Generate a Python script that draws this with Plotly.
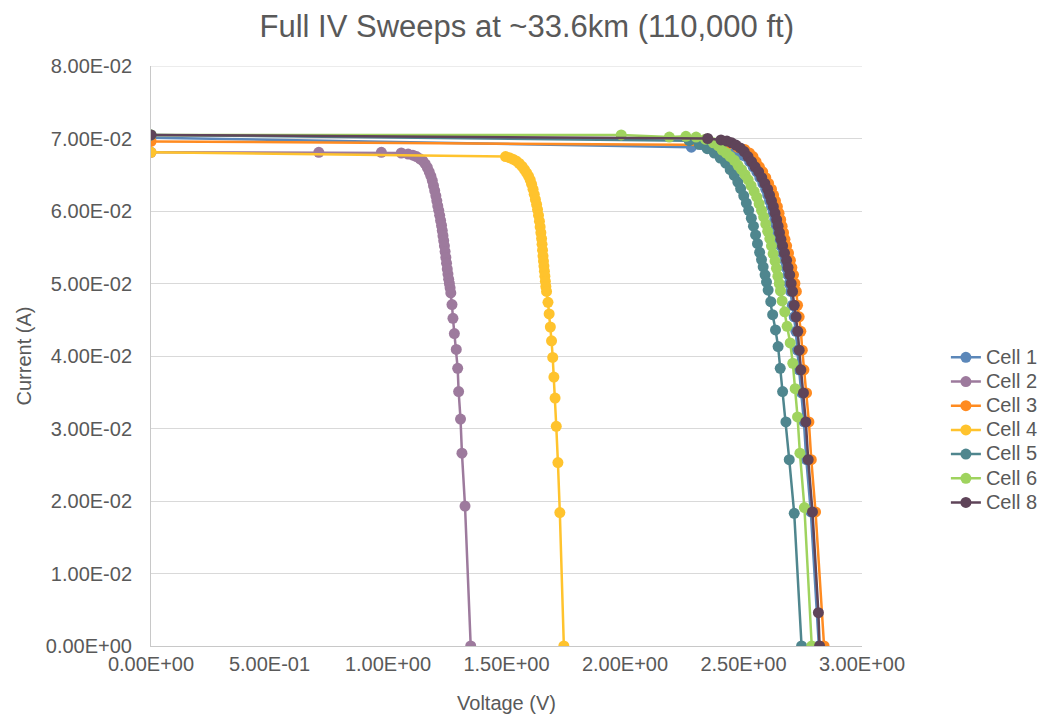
import plotly.graph_objects as go

# ---- data (Voltage in V, Current in units of 1e-2 A) ----
cell1_v = [0, 2.280, 2.377, 2.461, 2.495, 2.511, 2.526, 2.541, 2.556, 2.569, 2.582, 2.594, 2.602, 2.610,
           2.618, 2.625, 2.632, 2.638, 2.644, 2.650, 2.657, 2.665, 2.674, 2.680, 2.687, 2.693, 2.699, 2.706,
           2.714, 2.721, 2.727, 2.734, 2.745, 2.755, 2.765, 2.784, 2.818]
cell1_i = [7.01, 6.88, 6.83, 6.80, 6.77, 6.75, 6.68, 6.61, 6.54, 6.46, 6.38, 6.30, 6.22, 6.14,
           6.06, 5.97, 5.88, 5.79, 5.70, 5.61, 5.52, 5.42, 5.32, 5.22, 5.12, 5.00, 4.89, 4.70,
           4.54, 4.34, 4.08, 3.81, 3.49, 3.09, 2.57, 1.85, 0]

cell2_v = [0, 0.708, 0.972, 1.056, 1.085, 1.105, 1.120, 1.135, 1.147, 1.157, 1.166, 1.174, 1.181, 1.187,
           1.192, 1.197, 1.202, 1.206, 1.210, 1.214, 1.218, 1.222, 1.226, 1.229, 1.232, 1.235, 1.238,
           1.241, 1.244, 1.247, 1.250, 1.253, 1.256, 1.259, 1.262, 1.265, 1.270, 1.274, 1.280, 1.288,
           1.294, 1.298, 1.306, 1.312, 1.325, 1.349]
cell2_i = [6.81, 6.81, 6.81, 6.80, 6.785, 6.77, 6.75, 6.72, 6.69, 6.65, 6.60, 6.54, 6.48, 6.42,
           6.35, 6.28, 6.21, 6.14, 6.07, 6.01, 5.94, 5.87, 5.80, 5.73, 5.66, 5.59, 5.52,
           5.44, 5.36, 5.28, 5.20, 5.13, 5.06, 5.00, 4.94, 4.87, 4.71, 4.52, 4.31, 4.09,
           3.83, 3.51, 3.13, 2.66, 1.93, 0]

cell3_v = [0, 2.350, 2.430, 2.475, 2.505, 2.525, 2.540, 2.553, 2.567, 2.581, 2.594, 2.606, 2.618,
           2.627, 2.635, 2.643, 2.650, 2.657, 2.663, 2.669, 2.675, 2.682, 2.690, 2.698, 2.704, 2.711,
           2.717, 2.723, 2.728, 2.735, 2.742, 2.748, 2.755, 2.766, 2.776, 2.786, 2.804, 2.840]
cell3_i = [6.96, 6.92, 6.91, 6.88, 6.85, 6.80, 6.75, 6.68, 6.61, 6.54, 6.46, 6.38, 6.30,
           6.22, 6.14, 6.06, 5.97, 5.88, 5.79, 5.70, 5.61, 5.52, 5.42, 5.32, 5.22, 5.12,
           5.00, 4.89, 4.70, 4.54, 4.34, 4.08, 3.81, 3.49, 3.09, 2.57, 1.85, 0]

cell4_v = [0, 1.496, 1.512, 1.527, 1.541, 1.554, 1.566, 1.576, 1.585, 1.593, 1.600, 1.606, 1.612, 1.617,
           1.622, 1.627, 1.631, 1.635, 1.639, 1.642, 1.645, 1.648, 1.650, 1.652, 1.654, 1.656, 1.658,
           1.660, 1.662, 1.664, 1.666, 1.669, 1.675, 1.680, 1.685, 1.690, 1.695, 1.700, 1.705, 1.710,
           1.717, 1.725, 1.742]
cell4_i = [6.81, 6.75, 6.735, 6.715, 6.69, 6.655, 6.615, 6.57, 6.525, 6.48, 6.43, 6.37, 6.30, 6.23,
           6.16, 6.09, 6.02, 5.94, 5.86, 5.78, 5.70, 5.62, 5.54, 5.46, 5.38, 5.31, 5.24,
           5.17, 5.10, 5.03, 4.96, 4.89, 4.74, 4.58, 4.40, 4.21, 3.98, 3.71, 3.42, 3.03,
           2.53, 1.84, 0]

cell5_v = [0, 2.271, 2.313, 2.347, 2.377, 2.402, 2.425, 2.444, 2.461, 2.476, 2.488, 2.501, 2.512, 2.522,
           2.533, 2.542, 2.551, 2.559, 2.568, 2.576, 2.583, 2.591, 2.597, 2.604, 2.615, 2.623, 2.635,
           2.646, 2.655, 2.665, 2.679, 2.693, 2.714, 2.745]
cell5_i = [7.05, 6.97, 6.92, 6.86, 6.80, 6.73, 6.66, 6.57, 6.49, 6.40, 6.31, 6.21, 6.11, 6.01,
           5.90, 5.79, 5.67, 5.55, 5.43, 5.33, 5.23, 5.12, 5.02, 4.91, 4.75, 4.57, 4.36,
           4.13, 3.83, 3.51, 3.09, 2.57, 1.83, 0]

cell6_v = [0, 1.984, 2.187, 2.257, 2.300, 2.339, 2.373, 2.394, 2.410, 2.427, 2.444, 2.461, 2.477, 2.492,
           2.507, 2.520, 2.532, 2.545, 2.556, 2.566, 2.576, 2.585, 2.594, 2.602, 2.611, 2.618, 2.625,
           2.633, 2.639, 2.645, 2.651, 2.656, 2.663, 2.674, 2.684, 2.697, 2.708, 2.718, 2.728, 2.738,
           2.757, 2.788]
cell6_i = [7.05, 7.05, 7.02, 7.03, 7.02, 6.99, 6.94, 6.90, 6.84, 6.80, 6.75, 6.70, 6.63, 6.57,
           6.50, 6.43, 6.35, 6.27, 6.19, 6.10, 6.01, 5.92, 5.82, 5.72, 5.62, 5.52, 5.41,
           5.31, 5.21, 5.10, 5.00, 4.90, 4.76, 4.61, 4.41, 4.18, 3.90, 3.55, 3.16, 2.66,
           1.91, 0]

cell8_v = [0, 2.349, 2.405, 2.430, 2.450, 2.468, 2.486, 2.503, 2.519, 2.534, 2.549, 2.564, 2.577, 2.590,
           2.602, 2.610, 2.618, 2.626, 2.633, 2.640, 2.646, 2.652, 2.658, 2.665, 2.673, 2.682, 2.688,
           2.695, 2.701, 2.707, 2.714, 2.722, 2.729, 2.735, 2.742, 2.753, 2.763, 2.773, 2.791, 2.816,
           2.821]
cell8_i = [7.05, 7.00, 6.98, 6.965, 6.94, 6.91, 6.87, 6.82, 6.75, 6.68, 6.61, 6.54, 6.46, 6.38,
           6.30, 6.22, 6.14, 6.06, 5.97, 5.88, 5.79, 5.70, 5.61, 5.52, 5.42, 5.32, 5.22,
           5.12, 5.00, 4.89, 4.70, 4.54, 4.34, 4.08, 3.81, 3.49, 3.09, 2.57, 1.85, 0.46,
           0]

names = ["Cell 1", "Cell 2", "Cell 3", "Cell 4", "Cell 5", "Cell 6", "Cell 8"]
volts = [cell1_v, cell2_v, cell3_v, cell4_v, cell5_v, cell6_v, cell8_v]
currents = [cell1_i, cell2_i, cell3_i, cell4_i, cell5_i, cell6_i, cell8_i]
colors = ["#5B87B9", "#9D7A9D", "#FF8B21", "#FFC32D", "#4F868E", "#9FD35E", "#5F4459"]

x_tickvals = [0, 0.5, 1.0, 1.5, 2.0, 2.5, 3.0]
x_ticktext = ["0.00E+00", "5.00E-01", "1.00E+00", "1.50E+00", "2.00E+00", "2.50E+00", "3.00E+00"]
y_tickvals = [0, 0.01, 0.02, 0.03, 0.04, 0.05, 0.06, 0.07, 0.08]
y_ticktext = ["0.00E+00", "1.00E-02", "2.00E-02", "3.00E-02", "4.00E-02", "5.00E-02",
              "6.00E-02", "7.00E-02", "8.00E-02"]

FONT = "Liberation Sans, Arial, sans-serif"
GREY = "#595959"

# The page body adds an 8px margin; size the figure so the plot lands where the reference's does.
W, H = 1048, 708

fig = go.Figure()
for name, v, i, c in zip(names, volts, currents, colors):
    fig.add_trace(go.Scatter(
        x=v, y=[val / 100.0 for val in i],
        name="<span style='font-size:20px'>" + name + "</span>",
        mode="lines+markers",
        line=dict(color=c, width=2.5),
        marker=dict(color=c, size=11),
    ))

fig.update_layout(
    width=W, height=H,
    margin=dict(l=143, r=194, t=58, b=70, autoexpand=False),
    paper_bgcolor="white", plot_bgcolor="white",
    font=dict(family=FONT, color=GREY, size=20),
    title=dict(text="Full IV Sweeps at ~33.6km (110,000 ft)", x=0.495, xanchor="center",
               y=1 - 18 / H, yanchor="middle", font=dict(size=31, color=GREY, family=FONT)),
    legend=dict(x=1.118, xanchor="left", y=0.372, yanchor="middle",
                font=dict(size=16.3, color=GREY, family=FONT), bgcolor="rgba(0,0,0,0)"),
    showlegend=True,
    shapes=[dict(type="line", xref="paper", yref="y", x0=0, x1=1, y0=0.08, y1=0.08,
                 line=dict(color="#D9D9D9", width=1), layer="below")],
)
fig.update_xaxes(
    range=[0, 3.0], tickvals=x_tickvals, ticktext=x_ticktext, automargin=False,
    showgrid=False, zeroline=False, showline=True, linecolor="#C8C8C8", linewidth=1,
    ticks="", tickfont=dict(size=20, color=GREY, family=FONT),
    title=dict(text="Voltage (V)", font=dict(size=20, color=GREY, family=FONT), standoff=21),
)
fig.update_yaxes(
    range=[0, 0.08], tickvals=y_tickvals, ticktext=y_ticktext, automargin=False,
    showgrid=True, gridcolor="#D9D9D9", gridwidth=1,
    zeroline=False, showline=True, linecolor="#C8C8C8", linewidth=1,
    ticks="outside", ticklen=14, tickcolor="rgba(0,0,0,0)",
    tickfont=dict(size=20, color=GREY, family=FONT),
    title=dict(text="Current (A)", font=dict(size=20, color=GREY, family=FONT), standoff=8),
)

fig.write_html("out.html")
